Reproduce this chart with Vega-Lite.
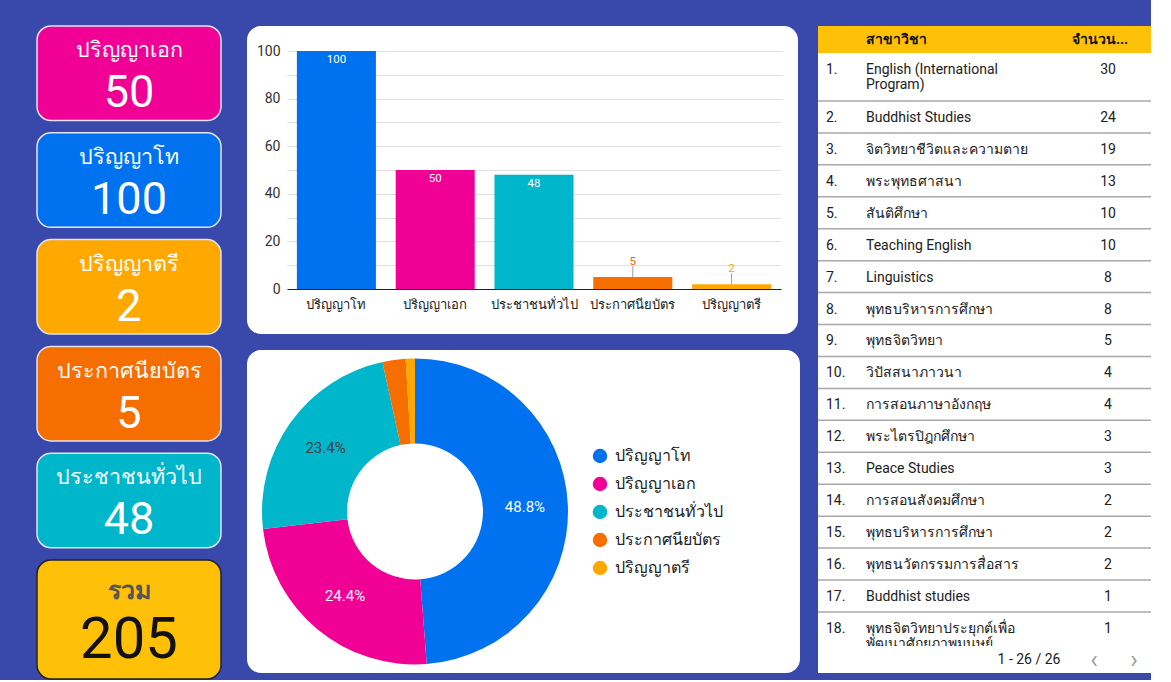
{
  "$schema": "https://vega.github.io/schema/vega-lite/v6.json",
  "background": "#3949AB",
  "padding": {"left": 36, "top": 25, "right": 0, "bottom": 0},
  "config": {
    "font": "Roboto",
    "view": {"stroke": null},
    "text": {"font": "Roboto"},
    "axis": {"labelFont": "Roboto"},
    "legend": {"labelFont": "Roboto"}
  },
  "datasets": {
    "kpi": [
      {"label": "ปริญญาเอก", "value": 50},
      {"label": "ปริญญาโท", "value": 100},
      {"label": "ปริญญาตรี", "value": 2},
      {"label": "ประกาศนียบัตร", "value": 5},
      {"label": "ประชาชนทั่วไป", "value": 48},
      {"label": "รวม", "value": 205}
    ],
    "levels": [
      {"level": "ปริญญาโท", "count": 100, "share": 0.488},
      {"level": "ปริญญาเอก", "count": 50, "share": 0.244},
      {"level": "ประชาชนทั่วไป", "count": 48, "share": 0.234},
      {"level": "ประกาศนียบัตร", "count": 5, "share": 0.024},
      {"level": "ปริญญาตรี", "count": 2, "share": 0.01}
    ],
    "majors": [
      {"rank": 1, "major": "English (International\nProgram)", "count": 30},
      {"rank": 2, "major": "Buddhist Studies", "count": 24},
      {"rank": 3, "major": "จิตวิทยาชีวิตและความตาย", "count": 19},
      {"rank": 4, "major": "พระพุทธศาสนา", "count": 13},
      {"rank": 5, "major": "สันติศึกษา", "count": 10},
      {"rank": 6, "major": "Teaching English", "count": 10},
      {"rank": 7, "major": "Linguistics", "count": 8},
      {"rank": 8, "major": "พุทธบริหารการศึกษา", "count": 8},
      {"rank": 9, "major": "พุทธจิตวิทยา", "count": 5},
      {"rank": 10, "major": "วิปัสสนาภาวนา", "count": 4},
      {"rank": 11, "major": "การสอนภาษาอังกฤษ", "count": 4},
      {"rank": 12, "major": "พระไตรปิฎกศึกษา", "count": 3},
      {"rank": 13, "major": "Peace Studies", "count": 3},
      {"rank": 14, "major": "การสอนสังคมศึกษา", "count": 2},
      {"rank": 15, "major": "พุทธบริหารการศึกษา", "count": 2},
      {"rank": 16, "major": "พุทธนวัตกรรมการสื่อสาร", "count": 2},
      {"rank": 17, "major": "Buddhist studies", "count": 1},
      {"rank": 18, "major": "พุทธจิตวิทยาประยุกต์เพื่อ\nพัฒนาศักยภาพมนุษย์", "count": 1}
    ]
  },
  "spacing": 25,
  "resolve": {"scale": {"color": "independent"}, "legend": {"color": "independent"}},
  "hconcat": [
    {
      "spacing": 9.8,
      "vconcat": [
        {
          "width": 184, "height": 94.5,
          "view": {"fill": "#f10096", "stroke": "#e4e4ee", "strokeWidth": 1.5, "cornerRadius": 14},
          "data": {"name": "kpi"},
          "transform": [{"filter": "datum.label === 'ปริญญาเอก'"}],
          "layer": [
            {"mark": {"type": "text", "dy": -22, "fontSize": 21.5, "color": "white"}, "encoding": {"text": {"field": "label", "type": "nominal"}}},
            {"mark": {"type": "text", "dy": 20, "fontSize": 45, "color": "white"}, "encoding": {"text": {"field": "value", "type": "quantitative"}}}
          ]
        },
        {
          "width": 184, "height": 94.5,
          "view": {"fill": "#0072f0", "stroke": "#e4e4ee", "strokeWidth": 1.5, "cornerRadius": 14},
          "data": {"name": "kpi"},
          "transform": [{"filter": "datum.label === 'ปริญญาโท'"}],
          "layer": [
            {"mark": {"type": "text", "dy": -22, "fontSize": 21.5, "color": "white"}, "encoding": {"text": {"field": "label", "type": "nominal"}}},
            {"mark": {"type": "text", "dy": 20, "fontSize": 45, "color": "white"}, "encoding": {"text": {"field": "value", "type": "quantitative"}}}
          ]
        },
        {
          "width": 184, "height": 94.5,
          "view": {"fill": "#ffa800", "stroke": "#e4e4ee", "strokeWidth": 1.5, "cornerRadius": 14},
          "data": {"name": "kpi"},
          "transform": [{"filter": "datum.label === 'ปริญญาตรี'"}],
          "layer": [
            {"mark": {"type": "text", "dy": -22, "fontSize": 21.5, "color": "white"}, "encoding": {"text": {"field": "label", "type": "nominal"}}},
            {"mark": {"type": "text", "dy": 20, "fontSize": 45, "color": "white"}, "encoding": {"text": {"field": "value", "type": "quantitative"}}}
          ]
        },
        {
          "width": 184, "height": 94.5,
          "view": {"fill": "#f66d00", "stroke": "#e4e4ee", "strokeWidth": 1.5, "cornerRadius": 14},
          "data": {"name": "kpi"},
          "transform": [{"filter": "datum.label === 'ประกาศนียบัตร'"}],
          "layer": [
            {"mark": {"type": "text", "dy": -22, "fontSize": 21.5, "color": "white"}, "encoding": {"text": {"field": "label", "type": "nominal"}}},
            {"mark": {"type": "text", "dy": 20, "fontSize": 45, "color": "white"}, "encoding": {"text": {"field": "value", "type": "quantitative"}}}
          ]
        },
        {
          "width": 184, "height": 94.5,
          "view": {"fill": "#00b6cb", "stroke": "#e4e4ee", "strokeWidth": 1.5, "cornerRadius": 14},
          "data": {"name": "kpi"},
          "transform": [{"filter": "datum.label === 'ประชาชนทั่วไป'"}],
          "layer": [
            {"mark": {"type": "text", "dy": -22, "fontSize": 21.5, "color": "white"}, "encoding": {"text": {"field": "label", "type": "nominal"}}},
            {"mark": {"type": "text", "dy": 20, "fontSize": 45, "color": "white"}, "encoding": {"text": {"field": "value", "type": "quantitative"}}}
          ]
        },
        {
          "width": 184, "height": 119,
          "view": {"fill": "#FFC107", "stroke": "#222222", "strokeWidth": 1.5, "cornerRadius": 14},
          "data": {"name": "kpi"},
          "transform": [{"filter": "datum.label === 'รวม'"}],
          "layer": [
            {"mark": {"type": "text", "dy": -29, "fontSize": 25, "fontWeight": "bold", "color": "#555555"}, "encoding": {"text": {"field": "label", "type": "nominal"}}},
            {"mark": {"type": "text", "dy": 21, "fontSize": 58, "color": "#111111"}, "encoding": {"text": {"field": "value", "type": "quantitative"}}}
          ]
        }
      ]
    },
    {
      "spacing": 18,
      "resolve": {"scale": {"color": "independent"}, "legend": {"color": "independent"}},
      "hconcat": [
        {
          "spacing": 16,
          "resolve": {"scale": {"color": "independent"}, "legend": {"color": "independent"}},
          "vconcat": [
            {
              "width": 551, "height": 308,
              "view": {"fill": "white", "cornerRadius": 14},
              "data": {"name": "levels"},
              "encoding": {
                "x": {
                  "field": "level", "type": "nominal", "sort": null,
                  "scale": {"range": [40, 534], "paddingInner": 0.2, "paddingOuter": 0.1},
                  "axis": {"title": null, "orient": "bottom", "offset": -45, "labelAngle": 0, "labelFontSize": 13, "labelColor": "#222222", "ticks": false, "domainColor": "#222222", "domainWidth": 1.2, "labelPadding": 9}
                },
                "y": {
                  "field": "count", "type": "quantitative",
                  "scale": {"domain": [0, 100], "range": [263, 25], "nice": false},
                  "axis": {"title": null, "orient": "left", "offset": -40, "values": [0, 10, 20, 30, 40, 50, 60, 70, 80, 90, 100], "labelExpr": "datum.value % 20 === 0 ? datum.label : ''", "grid": true, "gridColor": "#e0e0e0", "domain": false, "ticks": false, "labelPadding": 7, "labelFontSize": 14, "labelColor": "#333333"}
                },
                "color": {
                  "field": "level", "type": "nominal", "sort": null,
                  "scale": {"domain": ["ปริญญาโท", "ปริญญาเอก", "ประชาชนทั่วไป", "ประกาศนียบัตร", "ปริญญาตรี"], "range": ["#0072f0", "#f10096", "#00b6cb", "#f66d00", "#ffa800"]},
                  "legend": null
                }
              },
              "layer": [
                {"mark": {"type": "bar"}},
                {
                  "transform": [{"filter": "datum.count >= 20"}],
                  "mark": {"type": "text", "baseline": "top", "dy": 3, "fontSize": 11.5, "color": "white"},
                  "encoding": {"text": {"field": "count", "type": "quantitative"}, "color": {"value": "white"}}
                },
                {
                  "transform": [{"filter": "datum.count < 20"}],
                  "mark": {"type": "rule", "y2Offset": -11, "color": "#9e9e9e", "strokeWidth": 1},
                  "encoding": {"y2": {"field": "count"}, "color": {"value": "#9e9e9e"}}
                },
                {
                  "transform": [{"filter": "datum.count < 20"}],
                  "mark": {"type": "text", "baseline": "bottom", "dy": -10, "fontSize": 11.5},
                  "encoding": {"text": {"field": "count", "type": "quantitative"}}
                }
              ]
            },
            {
              "width": 553, "height": 323,
              "view": {"fill": "white", "cornerRadius": 14},
              "data": {"name": "levels"},
              "encoding": {
                "theta": {"field": "count", "type": "quantitative", "stack": true},
                "order": {"field": "count", "type": "quantitative", "sort": "descending"},
                "x": {"value": 168}
              },
              "layer": [
                {
                  "mark": {"type": "arc", "outerRadius": 153, "innerRadius": 68},
                  "encoding": {
                    "color": {
                      "field": "level", "type": "nominal", "sort": null,
                      "scale": {"domain": ["ปริญญาโท", "ปริญญาเอก", "ประชาชนทั่วไป", "ประกาศนียบัตร", "ปริญญาตรี"], "range": ["#0072f0", "#f10096", "#00b6cb", "#f66d00", "#ffa800"]},
                      "legend": {"title": null, "orient": "none", "legendX": 345, "legendY": 98, "symbolType": "circle", "symbolSize": 210, "labelFontSize": 16, "labelColor": "#212121", "rowPadding": 12, "labelOffset": 7, "symbolStrokeWidth": 0, "symbolOpacity": 1, "padding": 0}
                    }
                  }
                },
                {
                  "mark": {"type": "text", "radius": 110, "fontSize": 15},
                  "encoding": {
                    "detail": {"field": "level", "type": "nominal"},
                    "text": {"field": "share", "type": "quantitative", "format": ".1%"},
                    "color": {"condition": {"test": "datum.level === 'ประชาชนทั่วไป'", "value": "#424242"}, "value": "white"},
                    "opacity": {"condition": {"test": "datum.share > 0.05", "value": 1}, "value": 0}
                  }
                }
              ]
            }
          ]
        },
        {
          "spacing": 0,
          "vconcat": [
            {
              "width": 333, "height": 27,
              "view": {"fill": "#FFC107"},
              "data": {"values": [{}]},
              "layer": [
                {"mark": {"type": "text", "text": "สาขาวิชา", "x": 48, "align": "left", "fontWeight": "bold", "fontSize": 14, "color": "#111111"}, "encoding": {}},
                {"mark": {"type": "text", "text": "จำนวน...", "x": 254, "align": "left", "fontWeight": "bold", "fontSize": 14, "color": "#111111"}, "encoding": {}}
              ]
            },
            {
              "width": 333, "height": 593,
              "view": {"fill": "white"},
              "data": {"name": "majors"},
              "encoding": {
                "y": {"field": "rank", "type": "quantitative", "scale": {"domain": [0, 18.566], "reverse": true, "nice": false, "zero": false}, "axis": null}
              },
              "layer": [
                {"transform": [{"filter": "datum.rank < 18"}], "mark": {"type": "rule", "yOffset": 16, "color": "#a8a8a8", "strokeWidth": 1.5, "clip": true}},
                {"mark": {"type": "text", "x": 8, "align": "left", "baseline": "top", "dy": {"expr": "datum.rank === 1 ? -22 : -6"}, "fontSize": 14, "color": "#212121", "clip": true, "text": {"expr": "datum.rank + '.'"}}},
                {"mark": {"type": "text", "x": 48, "align": "left", "baseline": "top", "lineBreak": "\n", "lineHeight": 15, "dy": {"expr": "datum.rank === 1 ? -22 : -6"}, "fontSize": 14, "color": "#212121", "clip": true}, "encoding": {"text": {"field": "major", "type": "nominal"}}},
                {"mark": {"type": "text", "x": 290, "align": "center", "baseline": "top", "dy": {"expr": "datum.rank === 1 ? -22 : -6"}, "fontSize": 14, "color": "#212121", "clip": true}, "encoding": {"text": {"field": "count", "type": "quantitative"}}}
              ]
            },
            {
              "width": 333, "height": 27,
              "view": {"fill": "white"},
              "data": {"values": [{}]},
              "layer": [
                {"mark": {"type": "text", "text": "1 - 26 / 26", "x": 211, "align": "center", "fontSize": 14, "color": "#212121"}, "encoding": {}},
                {"mark": {"type": "text", "text": "‹", "x": 276, "align": "center", "fontSize": 25, "color": "#9e9e9e"}, "encoding": {}},
                {"mark": {"type": "text", "text": "›", "x": 316, "align": "center", "fontSize": 25, "color": "#9e9e9e"}, "encoding": {}}
              ]
            }
          ]
        }
      ]
    }
  ]
}
